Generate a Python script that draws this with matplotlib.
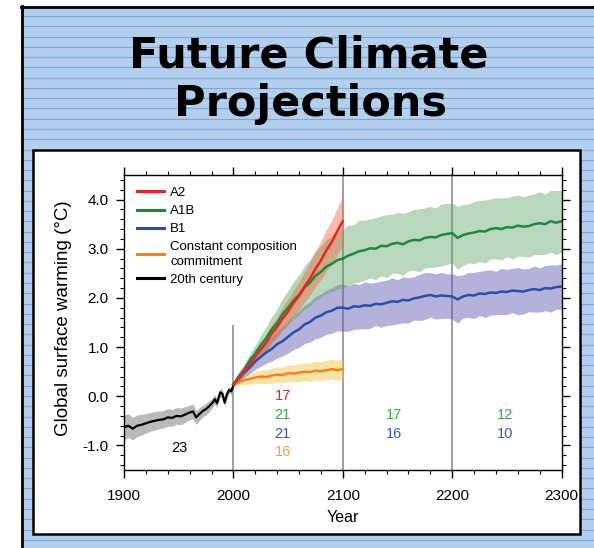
import matplotlib.pyplot as plt
import numpy as np
from matplotlib.lines import Line2D
from matplotlib.patches import Rectangle
from matplotlib.ticker import MultipleLocator, FormatStrFormatter

plt.rcParams['font.family'] = ['Liberation Sans', 'DejaVu Sans']
plt.rcParams['axes.unicode_minus'] = False

# 20th century
hist_years = [1900, 1904, 1908, 1912, 1916, 1920, 1924, 1928, 1932, 1936, 1940,
              1944, 1948, 1952, 1956, 1960, 1963, 1966, 1969, 1972, 1975, 1978,
              1981, 1983, 1985, 1988, 1990, 1992, 1994, 1996, 1998, 2000]
hist_mean = [-0.63, -0.60, -0.66, -0.60, -0.58, -0.55, -0.52, -0.50, -0.48, -0.47, -0.43,
             -0.44, -0.40, -0.41, -0.37, -0.33, -0.31, -0.43, -0.36, -0.30, -0.26, -0.20,
             -0.13, -0.06, -0.14, 0.08, 0.05, -0.13, 0.03, 0.13, 0.10, 0.22]
hist_sd = [0.25, 0.24, 0.23, 0.22, 0.21, 0.20, 0.19, 0.19, 0.18, 0.18, 0.18,
           0.17, 0.17, 0.17, 0.16, 0.15, 0.15, 0.14, 0.13, 0.12, 0.12, 0.11,
           0.10, 0.10, 0.09, 0.09, 0.08, 0.08, 0.08, 0.07, 0.07, 0.06]

# 2000-2100
proj_years = np.arange(2000, 2101, 5)
a2 = [0.24, 0.37, 0.53, 0.65, 0.81, 0.95, 1.09, 1.27, 1.41, 1.58, 1.72,
      1.90, 2.04, 2.23, 2.39, 2.59, 2.76, 2.97, 3.14, 3.36, 3.56]
a2_sd = [0.04, 0.07, 0.09, 0.11, 0.13, 0.15, 0.17, 0.19, 0.21, 0.23, 0.25,
         0.27, 0.29, 0.31, 0.34, 0.36, 0.39, 0.42, 0.44, 0.47, 0.50]
a1b = [0.24, 0.41, 0.55, 0.73, 0.87, 1.04, 1.18, 1.36, 1.49, 1.67, 1.80,
       1.95, 2.06, 2.21, 2.31, 2.45, 2.53, 2.64, 2.69, 2.77, 2.80]
a1b_sd = [0.04, 0.08, 0.11, 0.14, 0.17, 0.20, 0.23, 0.26, 0.29, 0.32, 0.35,
          0.38, 0.41, 0.44, 0.47, 0.50, 0.53, 0.55, 0.57, 0.59, 0.60]
b1 = [0.24, 0.36, 0.49, 0.59, 0.71, 0.80, 0.89, 0.96, 1.06, 1.12, 1.21,
      1.30, 1.36, 1.46, 1.51, 1.60, 1.64, 1.71, 1.74, 1.80, 1.80]
b1_sd = [0.04, 0.07, 0.10, 0.13, 0.16, 0.19, 0.22, 0.25, 0.28, 0.30, 0.33,
         0.35, 0.37, 0.39, 0.41, 0.43, 0.44, 0.45, 0.46, 0.47, 0.48]
commit = [0.24, 0.29, 0.33, 0.35, 0.38, 0.40, 0.39, 0.42, 0.44, 0.43, 0.47,
          0.46, 0.48, 0.50, 0.49, 0.52, 0.51, 0.53, 0.55, 0.53, 0.55]
commit_sd = [0.04, 0.07, 0.09, 0.11, 0.12, 0.13, 0.14, 0.15, 0.16, 0.16, 0.17,
             0.17, 0.18, 0.18, 0.19, 0.19, 0.19, 0.20, 0.20, 0.20, 0.20]

# 2100-2300 (stabilisation)
ext_years = np.arange(2100, 2301, 5)
a1b_ext = [2.80, 2.86, 2.90, 2.95, 2.97, 3.01, 3.00, 3.06, 3.05, 3.10,
           3.12, 3.09, 3.15, 3.18, 3.17, 3.22, 3.24, 3.23, 3.28, 3.30,
           3.32, 3.22, 3.28, 3.31, 3.33, 3.36, 3.35, 3.40, 3.42, 3.40,
           3.44, 3.43, 3.47, 3.45, 3.46, 3.50, 3.52, 3.50, 3.56, 3.53, 3.56]
a1b_ext_sd = [0.60, 0.62, 0.59, 0.63, 0.61, 0.60, 0.63, 0.61, 0.64, 0.60,
              0.62, 0.63, 0.60, 0.62, 0.64, 0.61, 0.62, 0.60, 0.63, 0.62,
              0.61, 0.64, 0.62, 0.60, 0.63, 0.62, 0.64, 0.61, 0.62, 0.63,
              0.60, 0.64, 0.62, 0.61, 0.63, 0.62, 0.64, 0.61, 0.63, 0.65, 0.63]
b1_ext = [1.80, 1.78, 1.83, 1.82, 1.85, 1.84, 1.88, 1.87, 1.90, 1.93,
          1.92, 1.96, 1.95, 1.99, 2.01, 2.04, 2.06, 2.03, 2.05, 2.04,
          2.03, 1.97, 2.03, 2.06, 2.05, 2.09, 2.08, 2.11, 2.10, 2.13,
          2.12, 2.15, 2.14, 2.13, 2.16, 2.18, 2.16, 2.20, 2.19, 2.22, 2.23]
b1_ext_sd = [0.48, 0.46, 0.47, 0.45, 0.48, 0.46, 0.44, 0.47, 0.46, 0.48,
             0.45, 0.47, 0.46, 0.44, 0.47, 0.48, 0.45, 0.46, 0.47, 0.45,
             0.46, 0.48, 0.44, 0.46, 0.47, 0.45, 0.48, 0.46, 0.44, 0.47,
             0.46, 0.45, 0.48, 0.46, 0.44, 0.47, 0.45, 0.46, 0.48, 0.45, 0.46]

# number of models
ann_text = ['23', '17', '21', '21', '16', '17', '16', '12', '10']
ann_x = [1951, 2045, 2045, 2045, 2045, 2147, 2147, 2248, 2248]
ann_y = [-1.05, 0.0, -0.39, -0.76, -1.14, -0.39, -0.76, -0.39, -0.76]
ann_col = ['black', '#e8262a', '#3aa845', '#3c5aa8', '#f7a440',
           '#3aa845', '#3c5aa8', '#3aa845', '#3c5aa8']

legend_labels = ['A2', 'A1B', 'B1', 'Constant composition\ncommitment', '20th century']

fig = plt.figure(figsize=(5.94, 5.48), dpi=100)

# slide background
bg = fig.add_axes([0, 0, 1, 1])
bg.set_xlim(0, 594)
bg.set_ylim(548, 0)
bg.axis('off')
bg.add_patch(Rectangle((21, 6), 573, 542, facecolor='#b4cfeb', edgecolor='none', zorder=0))
for yy in np.arange(16, 548, 10.27):
    bg.plot([22, 594], [yy, yy], color='#78a8dd', lw=0.8, zorder=1)
bg.plot([21.5, 21.5], [6, 548], color='black', lw=2, zorder=4)
bg.plot([21, 594], [6.5, 6.5], color='black', lw=2, zorder=4)
bg.add_patch(Rectangle((33, 150), 547, 384, facecolor='white', edgecolor='black',
                       lw=1.8, zorder=3))
bg.text(309, 68, 'Future Climate', ha='center', va='baseline',
        fontsize=31, fontweight='bold', family='DejaVu Sans', zorder=5)
bg.text(311, 116, 'Projections', ha='center', va='baseline',
        fontsize=31, fontweight='bold', family='DejaVu Sans', zorder=5)

ax = fig.add_axes([0.20875, 0.14234, 0.7366, 0.53832])
ax.set_facecolor('none')


def band(x, m, s, color, alpha):
    m = np.array(m)
    s = np.array(s)
    ax.fill_between(x, m - s, m + s, color=color, alpha=alpha, lw=0)


ax.axvline(2100, color='#999999', lw=1.3, zorder=1)
ax.axvline(2200, color='#999999', lw=1.3, zorder=1)
ax.plot([2000, 2000], [-1.5, 1.43], color='#999999', lw=1.3, zorder=1)

band(hist_years, hist_mean, hist_sd, '#8c8c8c', 0.6)
band(proj_years, commit, commit_sd, '#f0c850', 0.5)
band(proj_years, b1, b1_sd, '#5a55b0', 0.45)
band(ext_years, b1_ext, b1_ext_sd, '#5a55b0', 0.45)
band(proj_years, a1b, a1b_sd, '#5aa060', 0.42)
band(ext_years, a1b_ext, a1b_ext_sd, '#5aa060', 0.42)
band(proj_years, a2, a2_sd, '#f06a40', 0.45)

ax.plot(hist_years, hist_mean, color='black', lw=1.6)
ax.plot(proj_years, commit, color='#f58220', lw=1.8)
ax.plot(proj_years, b1, color='#2b4ea8', lw=1.8)
ax.plot(ext_years, b1_ext, color='#2b4ea8', lw=1.8)
ax.plot(proj_years, a1b, color='#1a8a3c', lw=1.8)
ax.plot(ext_years, a1b_ext, color='#1a8a3c', lw=1.8)
ax.plot(proj_years, a2, color='#e8261f', lw=1.8)

for t, x, y, c in zip(ann_text, ann_x, ann_y, ann_col):
    ax.text(x, y, t, color=c, ha='center', va='center', fontsize=10.5)

ax.set_xlim(1900, 2300)
ax.set_ylim(-1.5, 4.5)
ax.xaxis.set_major_locator(MultipleLocator(100))
ax.xaxis.set_minor_locator(MultipleLocator(20))
ax.yaxis.set_major_locator(MultipleLocator(1))
ax.yaxis.set_minor_locator(MultipleLocator(0.2))
ax.yaxis.set_major_formatter(FormatStrFormatter('%.1f'))
ax.tick_params(which='both', direction='out', top=True, right=True, labelsize=11)
ax.tick_params(which='major', length=6, width=1)
ax.tick_params(which='minor', length=3, width=0.8)
ax.tick_params(axis='x', pad=8)
ax.tick_params(axis='y', pad=5)
for sp in ax.spines.values():
    sp.set_linewidth(1)

ax.set_ylabel('Global surface warming (°C)', fontsize=13.5)
ax.yaxis.set_label_coords(-0.118, 0.515)
ax.set_xlabel('Year', fontsize=11.5)
ax.xaxis.set_label_coords(0.5, -0.135)

handles = [Line2D([], [], color=c, lw=2.2) for c in
           ['#e8261f', '#1a8a3c', '#2b4ea8', '#f58220', 'black']]
leg = ax.legend(handles, legend_labels, loc='upper left', bbox_to_anchor=(0.03, 0.96),
                frameon=False, fontsize=9.5, handlelength=2.0, handletextpad=0.5,
                labelspacing=0.45, borderaxespad=0, borderpad=0)
leg.get_texts()[3].set_linespacing(1.25)

fig.savefig('out.png', dpi=100)
